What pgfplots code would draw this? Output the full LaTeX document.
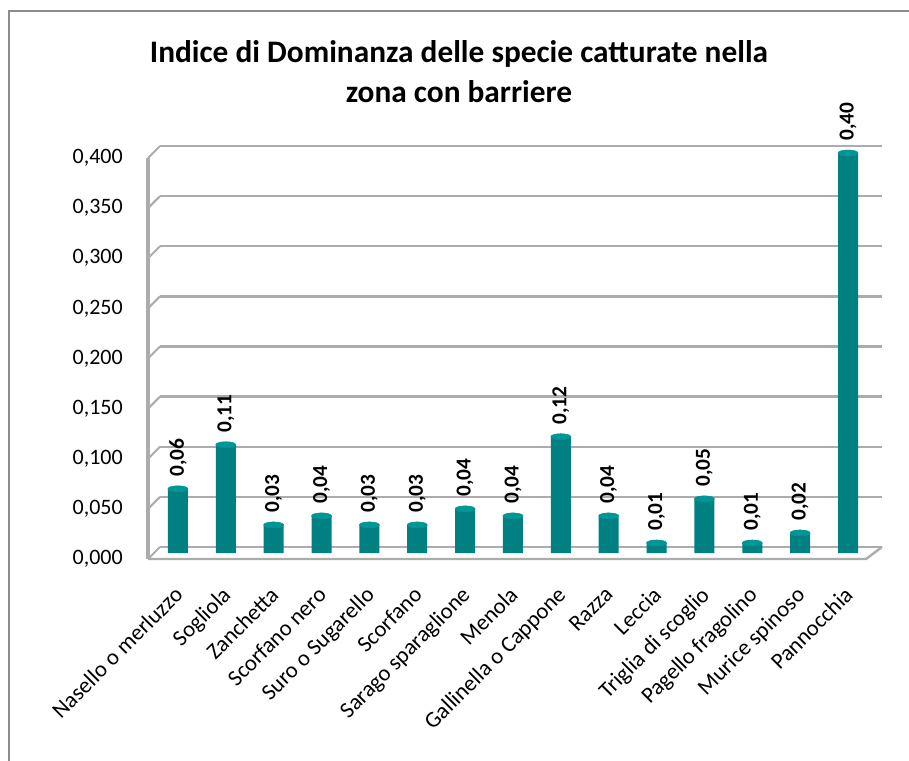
\documentclass[border=0pt]{standalone}
\usepackage{fontspec}
\setmainfont{Carlito}
\usepackage{pgfplots}
\pgfplotsset{compat=1.18}
\usepackage{pgfplotstable}

\definecolor{gridc}{RGB}{172,172,172}
\definecolor{framec}{RGB}{140,140,140}
\definecolor{bardark}{RGB}{0,128,128}
\definecolor{barmid}{RGB}{0,166,166}
\definecolor{bartop}{RGB}{0,150,150}

\pgfplotstableread{
x y
0 0.064
1 0.108
2 0.028
3 0.037
4 0.028
5 0.028
6 0.044
7 0.037
8 0.116
9 0.037
10 0.010
11 0.054
12 0.010
13 0.020
14 0.399
}\datatable

\begin{document}
\begin{tikzpicture}[x=0.75pt,y=0.75pt]
\useasboundingbox (0,0) rectangle (909,760);
\fill[white] (0,0) rectangle (909,760);
\draw[framec, line width=1.5pt] (9,-10) -- (9,749) -- (920,749);

% title
\node[font=\bfseries\fontsize{23.5}{30}\selectfont, align=center] at (459,688)
  {Indice di Dominanza delle specie catturate nella\\zona con barriere};

\begin{axis}[
  at={(115.5pt,155.25pt)}, anchor=south west,
  scale only axis, width=541.5pt, height=300.75pt,
  xmin=-0.5, xmax=14.585, ymin=0, ymax=0.4,
  clip=false,
  axis line style={draw=none},
  major tick length=0pt,
  /pgf/number format/assume math mode=true,
  scaled y ticks=false,
  ytick={0,0.05,0.1,0.15,0.2,0.25,0.3,0.35,0.4},
  yticklabel style={/pgf/number format/.cd, fixed, fixed zerofill, precision=3, use comma, assume math mode=true, /tikz/.cd,
    font=\fontsize{16.5}{18}\selectfont, anchor=east, inner sep=0pt, xshift=-23.25pt, yshift=-4.5pt},
  xtick={0,...,14},
  xticklabels={Nasello o merluzzo, Sogliola, Zanchetta, Scorfano nero, Suro o Sugarello, Scorfano, Sarago sparaglione, Menola, Gallinella o Cappone, Razza, Leccia, Triglia di scoglio, Pagello fragolino, Murice spinoso, Pannocchia},
  xticklabel style={font=\fontsize{17}{18}\selectfont, xshift=-3.75pt, yshift=-24pt, rotate=45, anchor=north east, inner sep=0pt},
  ymajorgrids,
  major grid style={gridc, line width=1.8pt, xshift=4.5pt, yshift=4.5pt},
]
\addplot[ybar, bar width=15pt, draw=none, left color=bardark, middle color=barmid, right color=bardark]
  table[x=x,y=y]{\datatable};
\addplot[bartop, only marks, mark=*, mark size=7.5pt, mark options={yscale=0.3, fill=bartop, draw=bartop}]
  table[x=x,y=y]{\datatable};
\addplot[draw=none, mark=none,
  nodes near coords={\pgfmathprintnumber[fixed, fixed zerofill, precision=2, use comma, assume math mode=true]{\pgfplotspointmeta}},
  every node near coord/.append style={rotate=90, anchor=west, inner xsep=9pt, inner ysep=0pt, text=black,
    font=\bfseries\fontsize{16}{18}\selectfont}]
  table[x=x,y=y]{\datatable};
\end{axis}

% left wall and floor
\draw[gridc, line width=2.4pt] (148,201) -- (148,602);
\foreach \k in {0,...,8} {
  \draw[gridc, line width=1.5pt] (148,{201+50.125*\k}) -- (160,{213+50.125*\k});
}
\draw[gridc, line width=1.8pt] (148,201) -- (866,201) -- (882,213);
\end{tikzpicture}
\end{document}
